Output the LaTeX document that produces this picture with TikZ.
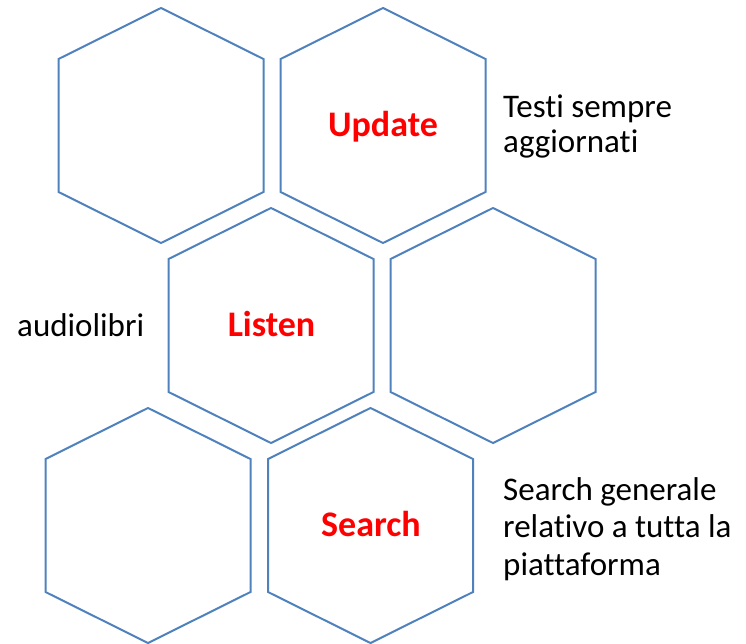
\documentclass[tikz,border=0pt]{standalone}
\usepackage{fontspec}
\setmainfont{Carlito}[RawFeature={-liga;-clig;-dlig}]
\definecolor{hexblue}{HTML}{4F81BD}
\tikzset{
  hexline/.style={draw=hexblue, line width=2pt, line join=miter},
  redlabel/.style={inner sep=0pt, anchor=base, text=red, font=\fontsize{36}{43}\selectfont\bfseries},
  sidetext/.style={inner sep=0pt, anchor=base west, text=black, font=\fontsize{33}{40}\selectfont},
  hexagon/.pic={
    \draw[hexline] (0,-117.5) -- (102.5,-66.5) -- (102.5,66.5) -- (0,117.5) -- (-102.5,66.5) -- (-102.5,-66.5) -- cycle;
  }
}
\begin{document}
\begin{tikzpicture}[x=1pt,y=-1pt]
\useasboundingbox (0,0) rectangle (746,644);
\pic at (161,125.5) {hexagon};
\pic at (383,125.5) {hexagon};
\pic at (271,325.5) {hexagon};
\pic at (493,325.5) {hexagon};
\pic at (148,525.5) {hexagon};
\pic at (370.5,525.5) {hexagon};
\node[redlabel] (update) at (383,137) {Update};
\node[redlabel] (listen) at (271.5,336.7) {Listen};
\node[redlabel] (search) at (371,536.7) {Search};
\node[sidetext] (t1) at (503,118) {Testi sempre};
\node[sidetext] (t2) at (503,153) {aggiornati};
\node[sidetext] (a1) at (17,336.5) {audiolibri};
\node[sidetext] (s1) at (503,500) {Search generale};
\node[sidetext] (s2) at (503,537.5) {relativo a tutta la};
\node[sidetext] (s3) at (503,575) {piattaforma};
\end{tikzpicture}
\end{document}
